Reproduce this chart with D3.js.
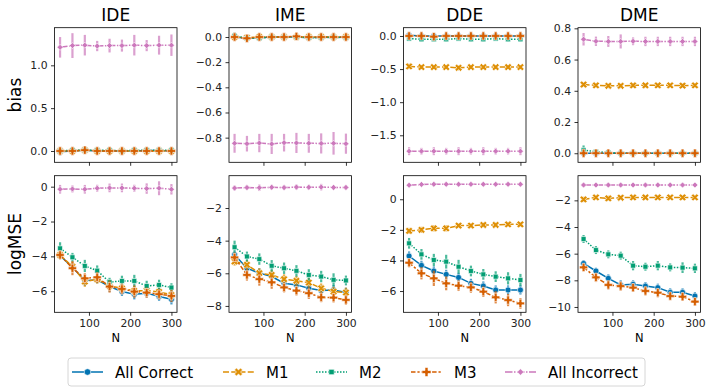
<!DOCTYPE html>
<html>
<head>
<meta charset="utf-8">
<script src="https://cdn.jsdelivr.net/npm/d3@7"></script>
<style>
  body { margin: 0; background: #fff; }
  text { font-family: "DejaVu Sans", sans-serif; }
</style>
</head>
<body>
<script>
'use strict';

// ---- data ----
const seriesNames = ["All Correct", "M1", "M2", "M3", "All Incorrect"];
const panelNames = ["IDE", "IME", "DDE", "DME"];
const nValues = [30, 60, 90, 120, 150, 180, 210, 240, 270, 300];

// bias means, one array per series (All Correct, M1, M2, M3, All Incorrect)
const ideBias = [
  [-0.01, 0.0, 0.01, 0.0, 0.0, 0.0, 0.0, 0.005, 0.005, 0.0],
  [0.0, 0.0, 0.01, 0.0, 0.0, 0.0, 0.0, 0.0, 0.0, 0.0],
  [0.0, 0.01, 0.01, 0.01, 0.01, 0.0, 0.01, 0.01, 0.01, 0.01],
  [0.0, 0.0, 0.01, 0.0, 0.0, 0.0, 0.0, 0.0, 0.0, 0.0],
  [1.21, 1.23, 1.235, 1.225, 1.23, 1.23, 1.235, 1.23, 1.235, 1.235]
];
const imeBias = [
  [0.0, -0.01, -0.005, 0.0, 0.0, 0.0, -0.005, 0.0, -0.005, 0.0],
  [0.0, -0.005, 0.0, 0.0, 0.0, 0.0, 0.0, 0.0, 0.0, 0.0],
  [0.01, -0.01, -0.01, 0.0, 0.0, 0.0, -0.005, -0.005, 0.0, -0.005],
  [0.0, -0.01, 0.0, 0.0, 0.0, 0.005, 0.0, 0.0, 0.0, 0.0],
  [-0.845, -0.848, -0.843, -0.85, -0.84, -0.842, -0.845, -0.846, -0.845, -0.848]
];
const ddeBias = [
  [0.01, 0.0, 0.0, 0.0, 0.0, 0.0, 0.0, 0.0, 0.0, 0.0],
  [-0.46, -0.47, -0.47, -0.47, -0.48, -0.47, -0.47, -0.47, -0.47, -0.47],
  [-0.04, -0.05, -0.05, -0.05, -0.04, -0.05, -0.05, -0.04, -0.05, -0.05],
  [0.0, 0.0, -0.01, 0.0, 0.0, 0.0, 0.0, 0.0, 0.0, 0.0],
  [-1.74, -1.74, -1.74, -1.74, -1.74, -1.74, -1.74, -1.74, -1.74, -1.74]
];
const dmeBias = [
  [0.0, 0.0, 0.0, 0.0, 0.0, 0.0, 0.0, 0.0, 0.0, 0.0],
  [0.44, 0.435, 0.432, 0.432, 0.435, 0.435, 0.435, 0.435, 0.433, 0.435],
  [0.02, 0.01, 0.005, 0.0, 0.0, 0.0, 0.0, 0.0, 0.0, 0.0],
  [0.0, 0.0, 0.0, 0.0, 0.0, 0.0, 0.0, 0.0, 0.0, 0.0],
  [0.73, 0.717, 0.716, 0.716, 0.717, 0.716, 0.716, 0.716, 0.716, 0.716]
];

// bias error half-widths
const ideBiasErr = [
  [0.04, 0.02, 0.02, 0.02, 0.02, 0.02, 0.02, 0.02, 0.02, 0.02],
  [0.03, 0.02, 0.02, 0.02, 0.02, 0.02, 0.02, 0.02, 0.02, 0.02],
  [0.04, 0.03, 0.02, 0.02, 0.02, 0.02, 0.02, 0.02, 0.02, 0.02],
  [0.03, 0.02, 0.02, 0.02, 0.02, 0.02, 0.02, 0.02, 0.02, 0.02],
  [0.12, 0.145, 0.12, 0.06, 0.08, 0.07, 0.12, 0.065, 0.11, 0.125]
];
const imeBiasErr = [
  [0.01, 0.01, 0.01, 0.01, 0.01, 0.01, 0.01, 0.01, 0.01, 0.01],
  [0.01, 0.01, 0.01, 0.01, 0.01, 0.01, 0.01, 0.01, 0.01, 0.01],
  [0.025, 0.01, 0.01, 0.01, 0.01, 0.01, 0.01, 0.01, 0.01, 0.01],
  [0.01, 0.01, 0.01, 0.01, 0.01, 0.01, 0.01, 0.01, 0.01, 0.01],
  [0.075, 0.062, 0.073, 0.08, 0.07, 0.08, 0.075, 0.08, 0.09, 0.08]
];
const ddeBiasErr = [
  [0.03, 0.02, 0.02, 0.02, 0.02, 0.02, 0.02, 0.02, 0.02, 0.02],
  [0.04, 0.03, 0.03, 0.03, 0.04, 0.03, 0.03, 0.03, 0.03, 0.03],
  [0.03, 0.03, 0.03, 0.03, 0.03, 0.03, 0.03, 0.03, 0.03, 0.03],
  [0.04, 0.03, 0.03, 0.03, 0.03, 0.03, 0.03, 0.03, 0.03, 0.03],
  [0.06, 0.05, 0.06, 0.05, 0.06, 0.05, 0.06, 0.05, 0.05, 0.06]
];
const dmeBiasErr = [
  [0.005, 0.005, 0.005, 0.005, 0.005, 0.005, 0.005, 0.005, 0.005, 0.005],
  [0.015, 0.015, 0.015, 0.015, 0.015, 0.015, 0.015, 0.015, 0.015, 0.015],
  [0.03, 0.015, 0.01, 0.005, 0.005, 0.005, 0.005, 0.005, 0.005, 0.005],
  [0.005, 0.005, 0.005, 0.005, 0.005, 0.005, 0.005, 0.005, 0.005, 0.005],
  [0.04, 0.03, 0.035, 0.045, 0.025, 0.03, 0.03, 0.03, 0.03, 0.03]
];

// logMSE means
const ideLogMse = [
  [-3.96, -4.62, -5.39, -5.35, -5.73, -6.02, -6.17, -6.11, -6.3, -6.46],
  [-3.92, -4.59, -5.45, -5.31, -5.7, -5.83, -5.98, -5.96, -6.04, -6.21],
  [-3.54, -4.05, -4.55, -4.82, -5.48, -5.41, -5.41, -5.7, -5.64, -5.79],
  [-3.92, -4.68, -5.26, -5.2, -5.73, -5.87, -6.02, -6.08, -6.17, -6.27],
  [-0.15, -0.13, -0.15, -0.09, -0.07, -0.07, -0.09, -0.11, -0.09, -0.15]
];
const imeLogMse = [
  [-4.87, -5.69, -5.99, -6.2, -6.61, -6.71, -6.92, -7.06, -7.02, -7.18],
  [-5.28, -5.48, -5.99, -6.1, -6.36, -6.46, -6.57, -6.92, -7.12, -7.18],
  [-4.4, -4.97, -5.13, -5.54, -5.69, -5.85, -6.1, -6.2, -6.4, -6.44],
  [-5.03, -6.1, -6.36, -6.55, -6.87, -7.06, -7.22, -7.47, -7.49, -7.63],
  [-0.78, -0.75, -0.76, -0.73, -0.75, -0.72, -0.73, -0.72, -0.74, -0.74]
];
const ddeLogMse = [
  [-3.71, -4.32, -4.69, -4.91, -5.11, -5.5, -5.67, -5.93, -5.93, -5.93],
  [-2.07, -2.0, -1.9, -1.9, -1.72, -1.72, -1.68, -1.68, -1.64, -1.64],
  [-2.88, -3.6, -3.97, -4.08, -4.41, -4.69, -4.91, -5.06, -5.17, -5.28],
  [-4.15, -4.84, -5.17, -5.5, -5.65, -5.76, -6.04, -6.41, -6.59, -6.81],
  [0.92, 0.97, 0.98, 0.98, 0.98, 0.98, 0.98, 0.98, 0.98, 0.98]
];
const dmeLogMse = [
  [-6.73, -7.3, -7.85, -8.35, -8.3, -8.43, -8.55, -8.9, -8.9, -9.18],
  [-1.93, -1.78, -1.85, -1.8, -1.78, -1.78, -1.78, -1.78, -1.78, -1.78],
  [-4.9, -5.73, -6.05, -6.15, -6.9, -6.98, -6.9, -7.03, -7.05, -7.1],
  [-7.03, -7.78, -8.35, -8.43, -8.55, -8.8, -8.93, -9.18, -9.23, -9.6],
  [-0.85, -0.85, -0.85, -0.85, -0.85, -0.85, -0.85, -0.85, -0.85, -0.85]
];

// logMSE error half-widths
const ideLogMseErr = [
  [0.2, 0.25, 0.3, 0.2, 0.3, 0.25, 0.3, 0.25, 0.25, 0.3],
  [0.25, 0.3, 0.3, 0.25, 0.3, 0.3, 0.3, 0.3, 0.3, 0.3],
  [0.35, 0.25, 0.35, 0.3, 0.25, 0.3, 0.35, 0.3, 0.3, 0.25],
  [0.25, 0.4, 0.3, 0.3, 0.35, 0.3, 0.35, 0.3, 0.3, 0.35],
  [0.25, 0.2, 0.25, 0.2, 0.25, 0.25, 0.2, 0.3, 0.4, 0.3]
];
const imeLogMseErr = [
  [0.2, 0.25, 0.3, 0.3, 0.3, 0.3, 0.3, 0.3, 0.3, 0.3],
  [0.25, 0.3, 0.3, 0.3, 0.3, 0.3, 0.3, 0.3, 0.3, 0.3],
  [0.4, 0.3, 0.35, 0.35, 0.35, 0.35, 0.35, 0.35, 0.4, 0.3],
  [0.3, 0.35, 0.4, 0.4, 0.3, 0.3, 0.35, 0.3, 0.3, 0.3],
  [0.15, 0.15, 0.2, 0.15, 0.15, 0.15, 0.15, 0.2, 0.15, 0.15]
];
const ddeLogMseErr = [
  [0.3, 0.3, 0.3, 0.3, 0.3, 0.3, 0.3, 0.3, 0.3, 0.3],
  [0.2, 0.2, 0.2, 0.2, 0.15, 0.15, 0.15, 0.15, 0.15, 0.15],
  [0.35, 0.35, 0.4, 0.45, 0.45, 0.35, 0.35, 0.35, 0.4, 0.4],
  [0.3, 0.4, 0.5, 0.45, 0.35, 0.35, 0.35, 0.4, 0.4, 0.35],
  [0.1, 0.1, 0.1, 0.1, 0.1, 0.1, 0.1, 0.1, 0.1, 0.1]
];
const dmeLogMseErr = [
  [0.25, 0.25, 0.3, 0.35, 0.3, 0.3, 0.3, 0.3, 0.3, 0.3],
  [0.2, 0.15, 0.2, 0.15, 0.15, 0.15, 0.15, 0.15, 0.15, 0.15],
  [0.3, 0.3, 0.3, 0.3, 0.35, 0.3, 0.35, 0.3, 0.4, 0.35],
  [0.3, 0.35, 0.35, 0.35, 0.3, 0.35, 0.35, 0.3, 0.3, 0.3],
  [0.1, 0.1, 0.1, 0.1, 0.1, 0.1, 0.1, 0.1, 0.1, 0.1]
];

const biasTicks = [[0, 0.5, 1.0], [0, -0.2, -0.4, -0.6, -0.8], [0, -0.5, -1.0, -1.5], [0, 0.2, 0.4, 0.6, 0.8]];
const logMseTicks = [[0, -2, -4, -6], [-2, -4, -6, -8], [0, -2, -4, -6], [-2, -4, -6, -8, -10]];
const xTicks = [100, 200, 300];

// ---- styling ----
const colors = ["#0173b2", "#de8f05", "#029e73", "#d55e00", "#cc78bc"];
const dashes = [null, "6,2.25", "1.5,1.5", "4.5,1.9,2.25,1.9", "7.5,1.5,1.5,1.5"];
const markers = [
  { type: d3.symbolCircle, size: 28, rot: 0 },
  { type: d3.symbolCross, size: 34, rot: 45 },
  { type: d3.symbolSquare, size: 24, rot: 0 },
  { type: d3.symbolCross, size: 38, rot: 0 },
  { type: d3.symbolSquare, size: 18, rot: 45 }
];

const m = { left: 54.5, step: 174.5, pw: 122.5 };
const rows = [
  { top: 27.7, h: 134.6, means: [ideBias, imeBias, ddeBias, dmeBias], errs: [ideBiasErr, imeBiasErr, ddeBiasErr, dmeBiasErr],
    domains: [[-0.132, 1.439], [-0.996, 0.074], [-1.908, 0.125], [-0.058, 0.804]], ticks: biasTicks, fmt: d3.format(".1f"), label: "bias" },
  { top: 175.7, h: 136.6, means: [ideLogMse, imeLogMse, ddeLogMse, dmeLogMse], errs: [ideLogMseErr, imeLogMseErr, ddeLogMseErr, dmeLogMseErr],
    domains: [[-7.21, 0.63], [-8.39, -0.02], [-7.39, 1.54], [-10.4, -0.15]], ticks: logMseTicks, fmt: d3.format("d"), label: "logMSE" }
];

const svg = d3.select("body").append("svg")
  .attr("width", 712)
  .attr("height", 392);

rows.forEach(function(row, ri) {
  panelNames.forEach(function(name, pi) {
    const g = svg.append("g")
      .attr("transform", "translate(" + (m.left + pi * m.step) + "," + row.top + ")");

    const x = d3.scaleLinear().domain([16.5, 313.5]).range([0, m.pw]);
    const y = d3.scaleLinear().domain(row.domains[pi]).range([row.h, 0]);

    // axes
    const xAxis = g.append("g")
      .attr("transform", "translate(0," + row.h + ")")
      .call(d3.axisBottom(x).tickValues(xTicks).tickSize(3.5).tickPadding(3.5)
        .tickFormat(ri === 0 ? "" : d3.format("d")));
    const yAxis = g.append("g")
      .call(d3.axisLeft(y).tickValues(row.ticks[pi]).tickSize(3.5).tickPadding(3.5).tickFormat(row.fmt));
    [xAxis, yAxis].forEach(function(a) {
      a.select(".domain").remove();
      a.selectAll("line").attr("stroke", "#000").attr("stroke-width", 0.8);
      a.selectAll("text").attr("font-size", 10.8).attr("fill", "#222")
        .attr("font-family", "DejaVu Sans, sans-serif");
    });

    // series
    row.means[pi].forEach(function(vals, si) {
      const errs = row.errs[pi][si];
      const pts = nValues.map(function(n, i) { return { n: n, v: vals[i], e: errs[i] }; });

      g.append("g").selectAll("line")
        .data(pts)
        .enter()
        .append("line")
        .attr("x1", function(d) { return x(d.n); })
        .attr("x2", function(d) { return x(d.n); })
        .attr("y1", function(d) { return y(d.v - d.e); })
        .attr("y2", function(d) { return y(d.v + d.e); })
        .attr("stroke", colors[si])
        .attr("stroke-width", 2.2)
        .attr("opacity", 0.7);

      const line = d3.line()
        .x(function(d) { return x(d.n); })
        .y(function(d) { return y(d.v); });
      g.append("path")
        .datum(pts)
        .attr("d", line)
        .attr("fill", "none")
        .attr("stroke", colors[si])
        .attr("stroke-width", 1.5)
        .attr("stroke-dasharray", dashes[si]);

      const mk = markers[si];
      g.append("g").selectAll("path")
        .data(pts)
        .enter()
        .append("path")
        .attr("d", d3.symbol().type(mk.type).size(mk.size))
        .attr("transform", function(d) { return "translate(" + x(d.n) + "," + y(d.v) + ") rotate(" + mk.rot + ")"; })
        .attr("fill", colors[si])
        .attr("stroke", "#fff")
        .attr("stroke-width", 0.6);
    });

    // frame
    g.append("rect")
      .attr("width", m.pw)
      .attr("height", row.h)
      .attr("fill", "none")
      .attr("stroke", "#000")
      .attr("stroke-width", 0.8);

    if (ri === 0) {
      g.append("text")
        .attr("x", m.pw / 2)
        .attr("y", -7)
        .attr("text-anchor", "middle")
        .attr("font-size", 17)
        .text(name);
    } else {
      g.append("text")
        .attr("x", m.pw / 2)
        .attr("y", row.h + 30)
        .attr("text-anchor", "middle")
        .attr("font-size", 11.5)
        .text("N");
    }
  });

  svg.append("text")
    .attr("transform", "translate(21," + (row.top + row.h / 2) + ") rotate(-90)")
    .attr("text-anchor", "middle")
    .attr("font-size", 17)
    .text(row.label);
});

// legend
const legend = svg.append("g").attr("transform", "translate(68,358)");
legend.append("rect")
  .attr("width", 577)
  .attr("height", 28)
  .attr("rx", 3)
  .attr("fill", "#fff")
  .attr("stroke", "#ccc")
  .attr("stroke-width", 0.8);

const legendX = [4, 155, 248, 343, 437];
seriesNames.forEach(function(name, si) {
  const lg = legend.append("g").attr("transform", "translate(" + legendX[si] + ",14)");
  lg.append("line")
    .attr("x1", 0).attr("x2", 31)
    .attr("stroke", colors[si])
    .attr("stroke-width", 1.5)
    .attr("stroke-dasharray", dashes[si]);
  lg.append("path")
    .attr("d", d3.symbol().type(markers[si].type).size(markers[si].size * 1.2))
    .attr("transform", "translate(15.5,0) rotate(" + markers[si].rot + ")")
    .attr("fill", colors[si])
    .attr("stroke", "#fff")
    .attr("stroke-width", 0.6);
  lg.append("text")
    .attr("x", 43)
    .attr("y", 5.5)
    .attr("font-size", 15)
    .text(name);
});
</script>
</body>
</html>
